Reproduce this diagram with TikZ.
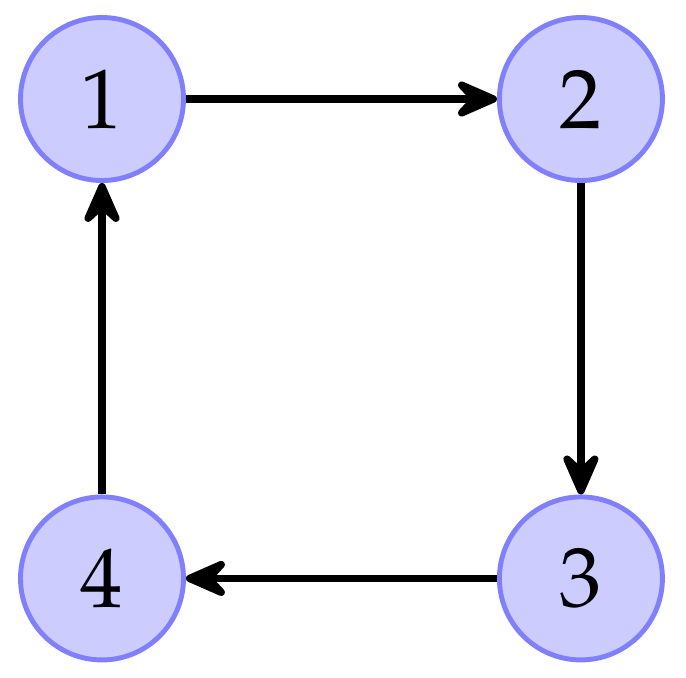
\documentclass[tikz,border=0pt]{standalone}
\usepackage[T1]{fontenc}
\usepackage{mathpazo}
\usepackage{tikz}
\usetikzlibrary{arrows.meta,positioning}
\tikzset{
  vertex/.style={circle,draw=blue!50,fill=blue!20,line width=1.4pt,
    minimum size=1.63cm,inner sep=0pt,font=\fontsize{24}{28}\selectfont},
  arrow/.style={-{Stealth[round,length=0.55cm,width=0.48cm,inset=0.22cm]},
    line width=2.1pt,color=black}
}
\begin{document}
\begin{tikzpicture}
  \useasboundingbox (-1.02,0.99) rectangle (5.84,-5.78);
  \node[vertex] (v1) {1};
  \node[vertex,right=3.11cm of v1] (v2) {2};
  \node[vertex,below=3.115cm of v2] (v3) {3};
  \node[vertex,below=3.115cm of v1] (v4) {4};

  \draw[arrow] (v1) -- (v2);
  \draw[arrow] (v2) -- (v3);
  \draw[arrow] (v3) -- (v4);
  \draw[arrow] (v4) -- (v1);
\end{tikzpicture}
\end{document}
